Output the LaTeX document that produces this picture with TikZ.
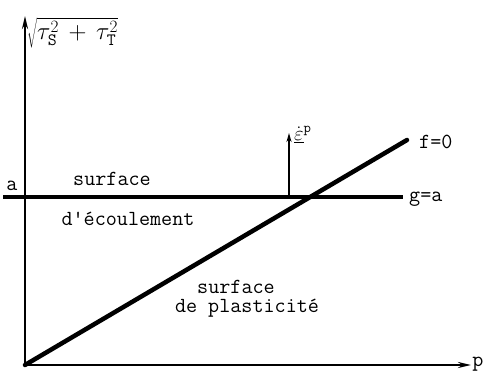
\documentclass[tikz,border=0pt]{standalone}
\usetikzlibrary{arrows.meta}
\begin{document}
\begin{tikzpicture}[x=1pt,y=-1pt,
  lbl/.style={font=\fontsize{21.5}{24}\selectfont\ttfamily, inner sep=0pt},
  axisline/.style={line width=2pt,-{Stealth[length=13pt,width=6pt]}},
  heavy/.style={line width=4.5pt}]
\useasboundingbox (0,0) rectangle (485,371);
\coordinate (O) at (25,365);
\coordinate (Ytop) at (25,16);
\coordinate (Xend) at (471,365);
\coordinate (Hl) at (3,197);
\coordinate (Hr) at (403,197);
\coordinate (Fend) at (407,140);
\coordinate (Eb) at (289,197);
\coordinate (Et) at (289,133);
\draw[axisline] (O) -- (Ytop);
\draw[axisline] (O) -- (Xend);
\draw[heavy] (Hl) -- (Hr);
\draw[heavy, line cap=round] (O) -- (Fend);
\draw[line width=1.6pt, -{Stealth[length=9pt,width=5pt]}] (Eb) -- (Et);
\node[anchor=west, inner sep=0pt, font=\fontsize{26}{30}\selectfont] (tau) at (27,33)
  {$\sqrt{\tau^{2}_{\mathtt{S}} \mathbin{\,+\,} \tau^{2}_{\mathtt{T}}}$};
\node[lbl] (pl) at (478,364) {p};
\node[lbl] (al) at (12,186) {a};
\node[lbl] (s1) at (112,179) {surface};
\node[lbl] (s2) at (128,219) {d'écoulement};
\node[lbl] (s3) at (236,287) {surface};
\node[lbl] (s4) at (247,308) {de plasticité};
\node[lbl, anchor=west] (f0) at (419,142) {f=0};
\node[lbl, anchor=west] (ga) at (409,199) {g=a};
\node[inner sep=0pt, font=\fontsize{22}{26}\selectfont, anchor=south west] (ep) at (294,143)
  {$\dot{\underline{\varepsilon}}^{\mathtt{p}}$};
\end{tikzpicture}
\end{document}
